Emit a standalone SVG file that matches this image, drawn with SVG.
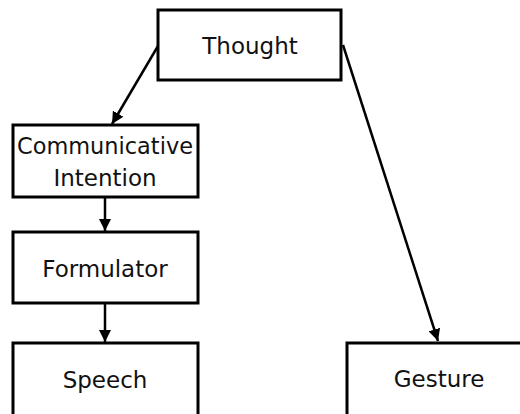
<svg xmlns="http://www.w3.org/2000/svg" width="520" height="414" viewBox="0 0 520 414">
  <style>
    .box { fill: #fff; stroke: #000; stroke-width: 3; }
    .lbl { font-family: "DejaVu Sans", Verdana, sans-serif; font-size: 23px; fill: #111; text-anchor: middle; }
    .edge { stroke: #000; stroke-width: 2.5; fill: none; marker-end: url(#head); }
  </style>
  <defs>
    <marker id="head" viewBox="0 0 12 12" refX="12" refY="6" markerWidth="12" markerHeight="12" markerUnits="userSpaceOnUse" orient="auto">
      <path d="M0,0 L12,6 L0,12 Z" fill="#000"/>
    </marker>
  </defs>
  <rect width="520" height="414" fill="#fff"/>

  <g id="connectors">
    <line class="edge" x1="158" y1="46" x2="112" y2="124"/>
    <line class="edge" x1="343" y1="45" x2="438" y2="341"/>
    <line class="edge" x1="105" y1="198" x2="105" y2="231"/>
    <line class="edge" x1="105" y1="304" x2="105" y2="342"/>
  </g>

  <g id="thought">
    <rect class="box" x="158" y="10" width="183" height="70"/>
    <text class="lbl" x="250" y="54">Thought</text>
  </g>
  <g id="communicative-intention">
    <rect class="box" x="13" y="125" width="185" height="72"/>
    <text class="lbl" x="105" y="154" textLength="176" lengthAdjust="spacingAndGlyphs">Communicative</text>
    <text class="lbl" x="105" y="186">Intention</text>
  </g>
  <g id="formulator">
    <rect class="box" x="13" y="232" width="185" height="71"/>
    <text class="lbl" x="105" y="277">Formulator</text>
  </g>
  <g id="speech">
    <rect class="box" x="13" y="343" width="185" height="80"/>
    <text class="lbl" x="105" y="388">Speech</text>
  </g>
  <g id="gesture">
    <rect class="box" x="347" y="343" width="185" height="80"/>
    <text class="lbl" x="439" y="387">Gesture</text>
  </g>
</svg>
